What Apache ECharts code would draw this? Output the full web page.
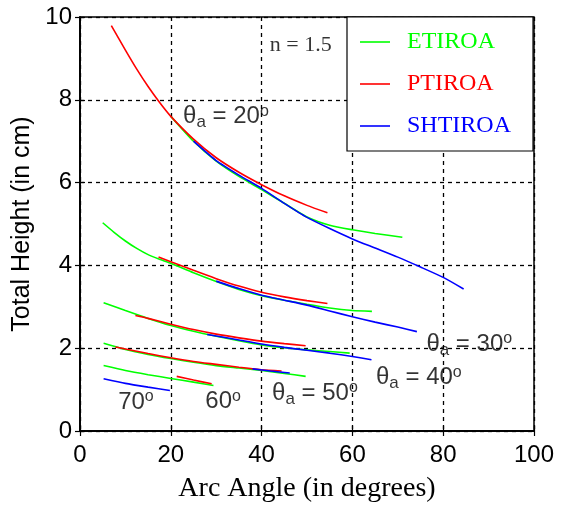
<!DOCTYPE html>
<html>
<head>
<meta charset="utf-8">
<script src="https://cdn.jsdelivr.net/npm/echarts@6/dist/echarts.min.js"></script>
<style>html,body{margin:0;padding:0;background:#fff}#c{width:566px;height:508px}</style>
</head>
<body>
<div id="c"></div>
<script>
// ---- data (x = arc angle in degrees, y = total height in cm) ----
const xTicks = [0, 20, 40, 60, 80, 100];
const yTicks = [0, 2, 4, 6, 8, 10];
const methods = ['ETIROA', 'PTIROA', 'SHTIROA'];

const etiroa20 = [[20,7.6],[25,7.0],[30,6.52],[35,6.15],[40,5.83],[45,5.5],[50,5.17],[55,4.97],[60,4.86],[65,4.77],[71,4.68]];
const ptiroa20 = [[6.9,9.79],[10,9.2],[12.5,8.74],[15,8.32],[17.5,7.94],[20,7.6],[25,7.05],[30,6.6],[35,6.25],[40,5.95],[45,5.68],[50,5.45],[54.5,5.27]];
const shtiroa20 = [[25,7.0],[30,6.53],[35,6.18],[40,5.86],[45,5.5],[50,5.16],[55,4.89],[60,4.64],[65,4.42],[70,4.2],[75,3.96],[80,3.71],[84.5,3.43]];

const etiroa30 = [[5,5.03],[7.5,4.8],[10,4.59],[12.5,4.41],[15,4.26],[17.5,4.15],[20,4.05],[25,3.82],[30,3.61],[35,3.42],[40,3.27],[45,3.16],[50,3.06],[55,2.97],[60,2.91],[64.3,2.89]];
const ptiroa30 = [[17.3,4.2],[20,4.09],[25,3.88],[30,3.68],[35,3.5],[40,3.35],[45,3.24],[50,3.15],[54.5,3.08]];
const shtiroa30 = [[30,3.62],[35,3.44],[40,3.28],[45,3.16],[50,3.04],[55,2.9],[60,2.76],[65,2.63],[70,2.51],[74.2,2.4]];

const etiroa40 = [[5.2,3.1],[10,2.91],[15,2.72],[20,2.55],[25,2.41],[30,2.29],[35,2.18],[40,2.08],[45,2.01],[50,1.96],[55,1.92],[59.4,1.88]];
const ptiroa40 = [[12.2,2.79],[15,2.72],[20,2.58],[25,2.45],[30,2.34],[35,2.25],[40,2.17],[45,2.11],[49.7,2.06]];
const shtiroa40 = [[28,2.33],[35,2.2],[40,2.1],[45,2.02],[50,1.95],[55,1.88],[60,1.8],[64.2,1.72]];

const etiroa50 = [[5.2,2.12],[10,1.97],[15,1.85],[20,1.75],[25,1.66],[30,1.58],[35,1.52],[40,1.46],[45,1.39],[49.7,1.32]];
const ptiroa50 = [[7.8,2.03],[10,1.98],[15,1.87],[20,1.77],[25,1.68],[30,1.61],[35,1.54],[40,1.48],[44.4,1.45]];
const shtiroa50 = [[38,1.5],[42,1.45],[46.2,1.4]];

const etiroa60 = [[5.2,1.58],[10,1.46],[15,1.36],[20,1.27],[25,1.18],[29.4,1.1]];
const ptiroa60 = [[21.3,1.32],[25,1.23],[29,1.14]];

const shtiroa70 = [[5.2,1.26],[10,1.15],[15,1.06],[19.8,0.98]];

// annotation texts and where they sit (data coords)
const noteTexts = ['n = 1.5', '20', '30', '40', '50', '60', '70'];
const noteAnchors = [[41.8,9.33],[22.7,7.6],[76.3,2.1],[65.2,1.29],[42.3,0.92],[27.6,0.72],[8.4,0.7]];

// ---- chart ----
const colors = { ETIROA: '#00ff00', PTIROA: '#ff0000', SHTIROA: '#0000ff' };
const groups = [
  ['ETIROA', etiroa20], ['PTIROA', ptiroa20], ['SHTIROA', shtiroa20],
  ['ETIROA', etiroa30], ['PTIROA', ptiroa30], ['SHTIROA', shtiroa30],
  ['ETIROA', etiroa40], ['PTIROA', ptiroa40], ['SHTIROA', shtiroa40],
  ['ETIROA', etiroa50], ['PTIROA', ptiroa50], ['SHTIROA', shtiroa50],
  ['ETIROA', etiroa60], ['PTIROA', ptiroa60],
  ['SHTIROA', shtiroa70]
];
const series = groups.map(([name, d]) => ({
  name, type: 'line', data: d, showSymbol: false, smooth: 0.2,
  lineStyle: { color: colors[name], width: 1.6 }, itemStyle: { color: colors[name] },
  z: name === 'ETIROA' ? 3 : (name === 'PTIROA' ? 4 : 5), silent: true
}));

const fontS = 'Liberation Sans, Arial, sans-serif';
const fontR = 'Liberation Serif, Times New Roman, serif';
const rich = {
  t: { fontFamily: fontS, fontSize: 24, color: '#000', lineHeight: 27 },
  s: { fontFamily: fontS, fontSize: 17, color: '#000', padding: [12, 0, 0, 0], lineHeight: 27 },
  d: { fontFamily: fontS, fontSize: 16, color: '#000', padding: [0, 0, 10, 0], lineHeight: 27 },
  n: { fontFamily: fontR, fontSize: 22, color: '#000' }
};
const noteData = noteAnchors.map((p, i) => {
  let f;
  if (i === 0) f = '{n|' + noteTexts[0] + '}';
  else if (i >= 5) f = '{t|' + noteTexts[i] + '}{d|o}';
  else f = '{t|θ}{s|a}{t| = ' + noteTexts[i] + '}{d|o}';
  return { value: p, label: { formatter: f } };
});
series.push({
  name: 'notes', type: 'scatter', symbolSize: 0, data: noteData, silent: true, z: 6,
  label: { show: true, position: [0, 0], align: 'left', verticalAlign: 'middle', rich }
});

const axisCommon = {
  axisLine: { show: true, lineStyle: { color: '#000', width: 1.5 } },
  axisTick: { show: true, inside: true, length: 5, lineStyle: { color: '#000', width: 1.2 } },
  splitLine: { show: false }
};

const chart = echarts.init(document.getElementById('c'), null, { renderer: 'canvas' });
chart.setOption({
  animation: false,
  backgroundColor: '#fff',
  grid: { left: 80, right: 32, top: 17, bottom: 76, show: true, borderColor: '#000', borderWidth: 1.5, backgroundColor: 'transparent' },
  legend: {
    data: methods.map(m => ({ name: m, icon: 'rect', textStyle: { color: colors[m] } })),
    orient: 'vertical', left: 347, top: 17,
    itemWidth: 30, itemHeight: 1.6, itemGap: 16,
    padding: [12, 22, 12, 13],
    backgroundColor: '#fff', borderColor: '#000', borderWidth: 1.2,
    selectedMode: false,
    textStyle: { fontFamily: fontR, fontSize: 24, lineHeight: 26, padding: [0, 0, 0, 12] },
    z: 10
  },
  xAxis: [
    Object.assign({}, axisCommon, {
      type: 'value', min: xTicks[0], max: xTicks[xTicks.length - 1], interval: 20,
      name: 'Arc Angle (in degrees)', nameLocation: 'middle', nameGap: 44,
      nameTextStyle: { fontFamily: fontR, fontSize: 28, color: '#000', verticalAlign: 'top' },
      axisLabel: { fontFamily: fontS, fontSize: 24, color: '#000', margin: 12 },
      splitLine: { show: true, lineStyle: { color: '#000', type: [4, 4], width: 1.3 } }
    }),
    Object.assign({}, axisCommon, {
      type: 'value', position: 'top', min: xTicks[0], max: xTicks[xTicks.length - 1], interval: 20,
      axisLabel: { show: false }
    })
  ],
  yAxis: [
    Object.assign({}, axisCommon, {
      type: 'value', min: yTicks[0], max: yTicks[yTicks.length - 1], interval: 2,
      name: 'Total Height (in cm)', nameLocation: 'middle', nameGap: 42,
      nameTextStyle: { fontFamily: fontS, fontSize: 25, color: '#000' },
      axisLabel: { fontFamily: fontS, fontSize: 24, color: '#000', margin: 8 },
      splitLine: { show: true, lineStyle: { color: '#000', type: [4, 4], width: 1.3 } }
    }),
    Object.assign({}, axisCommon, {
      type: 'value', position: 'right', min: yTicks[0], max: yTicks[yTicks.length - 1], interval: 2,
      axisLabel: { show: false }
    })
  ],
  series
});
</script>
</body>
</html>
